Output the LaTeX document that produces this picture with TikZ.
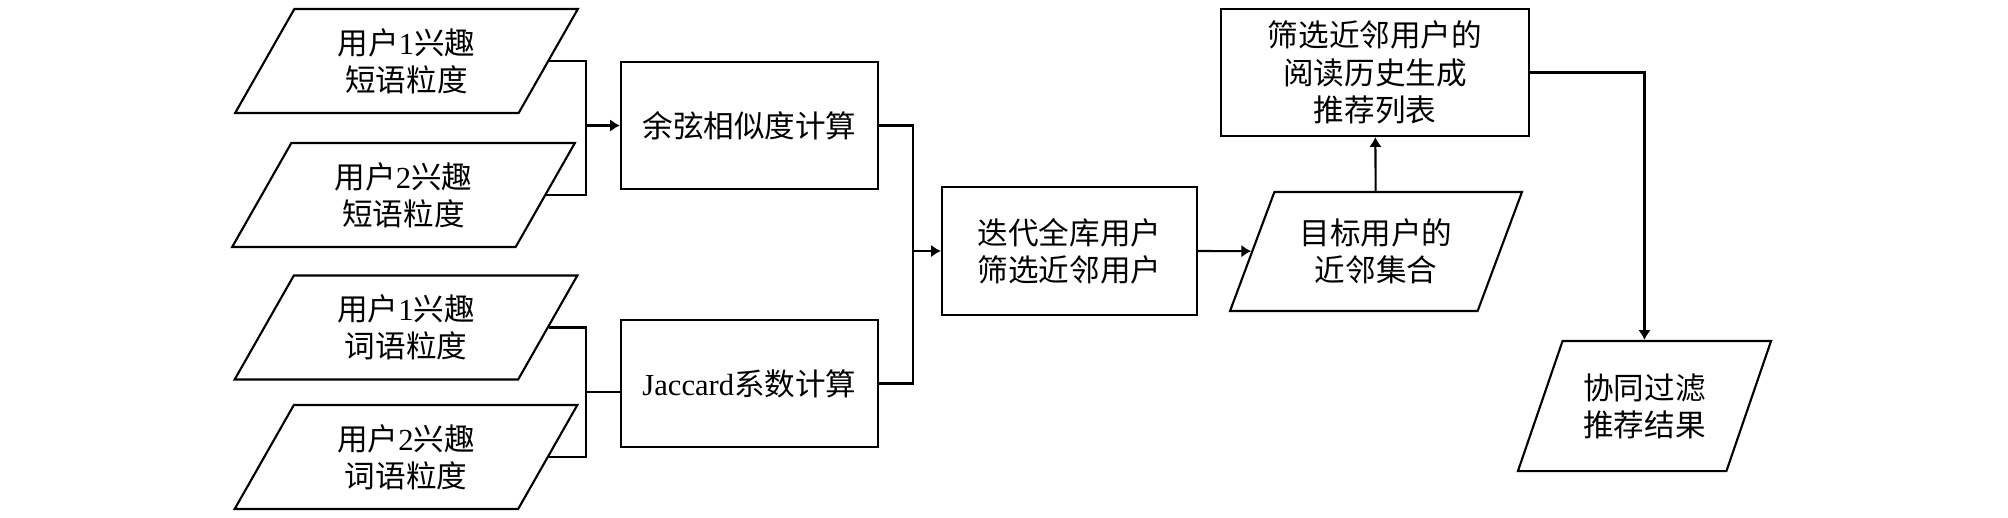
\documentclass[tikz,border=0pt]{standalone}
\usepackage{fontspec}
\setmainfont{Noto Sans CJK SC}
\newfontfamily\latinfont{Liberation Serif}
\usetikzlibrary{arrows.meta,positioning,shapes.geometric}
\newcommand*\lat[1]{{\latinfont #1}}

\begin{document}
\begin{tikzpicture}[x=0.01cm, y=-0.01cm, line width=0.6pt,
  font=\fontsize{8.7pt}{10.6pt}\selectfont,
  >={Latex[length=2.8pt,width=3.6pt]},
  box/.style={draw, rectangle, align=center, inner sep=0pt, minimum width=2.57cm, minimum height=1.27cm},
  data/.style={draw, trapezium, trapezium stretches=true, align=center, inner sep=0pt,
               trapezium left angle=61, trapezium right angle=119,
               minimum width=3.43cm, minimum height=1.04cm},
  steep/.style={trapezium left angle=63, trapezium right angle=117}]
\useasboundingbox (0,0) rectangle (2008,517);

% inputs
\node[data] (phrase1) at (406.5,61) {用户\lat{1}兴趣\\短语粒度};
\node[data] (phrase2) at (403.5,195) {用户\lat{2}兴趣\\短语粒度};
\node[data] (word1) at (406,327.5) {用户\lat{1}兴趣\\词语粒度};
\node[data] (word2) at (406,457) {用户\lat{2}兴趣\\词语粒度};

% similarity
\node[box] (cosine) at (749.5,125.5) {余弦相似度计算};
\node[box] (jaccard) at (749.5,383.5) {\lat{Jaccard}系数计算};
\node[box, minimum width=2.55cm, minimum height=1.28cm] (iterate) at (1069.5,251) {迭代全库用户\\筛选近邻用户};
\node[data, steep, minimum width=2.92cm, minimum height=1.19cm] (neighbour) at (1376,251.5) {目标用户的\\近邻集合};
\node[box, minimum width=3.08cm] (recommend) at (1375,72.5) {筛选近邻用户的\\阅读历史生成\\推荐列表};
\node[data, steep, minimum width=2.53cm, minimum height=1.30cm] (result) at (1644.5,406) {协同过滤\\推荐结果};

\coordinate (joinA) at (586,125.5);
\coordinate (joinB) at (586,392);
\coordinate (joinC) at (913,251);

\draw (phrase1.east) -| (joinA) |- (phrase2.east);
\draw[->] (joinA) -- (cosine.west);
\draw (word1.east) -| (joinB) |- (word2.east);
\draw (joinB) -- (joinB -| jaccard.west);
\draw (cosine.east) -| (joinC) |- (jaccard.east);
\draw[->] (joinC) -- (iterate.west);
\draw[->] (iterate.east) -- (neighbour);
\draw[->] (neighbour) -- (recommend);
\draw[->] (recommend.east) -| (result.north);
\end{tikzpicture}
\end{document}
